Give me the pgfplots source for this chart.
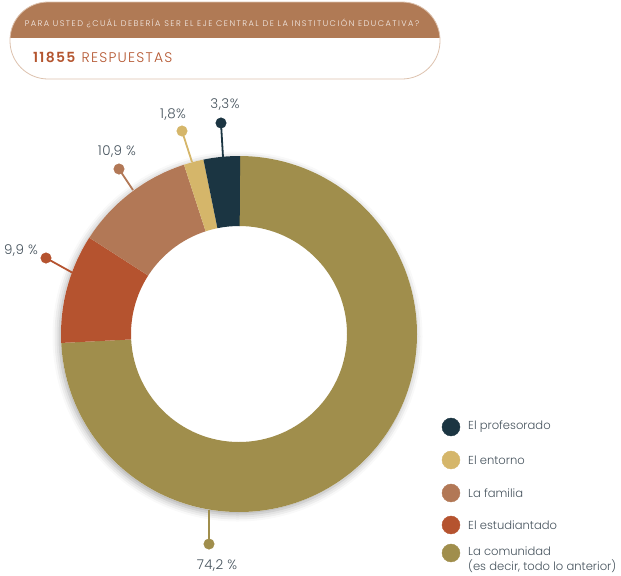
\documentclass[border=0pt]{standalone}
\usepackage{pgfplots}
\pgfplotsset{compat=1.18}
\usepackage{fontspec}
\setmainfont{Poppins}
\newfontfamily\lightfont{Poppins}[UprightFont=* Light, BoldFont=* SemiBold]
\usetikzlibrary{calc,shadows.blur}
\definecolor{profesorado}{HTML}{1B3542}
\definecolor{entorno}{HTML}{D5B66A}
\definecolor{familia}{HTML}{B27856}
\definecolor{estudiantado}{HTML}{B5532F}
\definecolor{comunidad}{HTML}{A08E4C}
\definecolor{header}{HTML}{B07A55}
\definecolor{headborder}{HTML}{DDC2AE}
\definecolor{numred}{HTML}{B4552F}
\definecolor{labgray}{HTML}{45525C}
\begin{document}
\begin{tikzpicture}
\begin{axis}[hide axis, scale only axis, width=621bp, height=575bp,
  xmin=0, xmax=621, ymin=0, ymax=575, y dir=reverse, clip=false]
\path (axis cs:0,0) rectangle (axis cs:621,575);
% header
\begin{scope}
\clip[rounded corners=38bp] (axis cs:10,2) rectangle (axis cs:440,79);
\fill[white] (axis cs:10,2) rectangle (axis cs:440,79);
\fill[header] (axis cs:10,2) rectangle (axis cs:440,38);
\end{scope}
\draw[headborder, line width=0.8bp, rounded corners=38bp] (axis cs:10,2) rectangle (axis cs:440,79);
\node[text=white!88!header, font=\fontsize{8.2}{9}\lightfont\addfontfeatures{LetterSpace=18}] at (axis cs:222,23) {PARA USTED ¿CUÁL DEBERÍA SER EL EJE CENTRAL DE LA INSTITUCIÓN EDUCATIVA?};
\node[anchor=west, text=numred, font=\fontsize{14}{16}\lightfont\addfontfeatures{LetterSpace=9}, inner sep=0pt] at (axis cs:33,57) {\textbf{11855} RESPUESTAS};
% shadow
\fill[white, blur shadow={shadow xshift=-1.5bp, shadow yshift=-2.5bp, shadow blur radius=7bp, shadow opacity=35}] (axis cs:239,334) circle[radius=178bp];
% donut
\gdef\cum{90}
\foreach \v/\c in {74.2/comunidad, 9.9/estudiantado, 10.9/familia, 1.8/entorno, 3.3/profesorado}{
  \pgfmathsetmacro\s{\cum}
  \pgfmathsetmacro\e{\cum-3.6*\v}
  \xdef\cum{\e}
  \edef\temp{\noexpand\fill[\c] ($(axis cs:239,334)+(\s:178bp)$) arc[start angle=\s, end angle=\e, radius=178bp] -- ($(axis cs:239,334)+(\e:108bp)$) arc[start angle=\e, end angle=\s, radius=108bp] -- cycle;}
  \temp
}
% leader lines
\addplot[profesorado, line width=1.8bp] coordinates {(221,123) (223,157)};
\addplot[entorno, line width=1.8bp] coordinates {(182,131) (192,162)};
\addplot[familia, line width=1.8bp] coordinates {(119,169) (133,190)};
\addplot[estudiantado, line width=1.8bp] coordinates {(46,258) (73,273)};
\addplot[comunidad, line width=1.8bp] coordinates {(209,544) (209,510)};
\addplot[only marks, mark=*, mark size=5.3, profesorado] coordinates {(221,123)};
\addplot[only marks, mark=*, mark size=5.3, entorno] coordinates {(182,131)};
\addplot[only marks, mark=*, mark size=5.3, familia] coordinates {(119,169)};
\addplot[only marks, mark=*, mark size=5.3, estudiantado] coordinates {(46,258)};
\addplot[only marks, mark=*, mark size=5.3, comunidad] coordinates {(209,544)};
% labels
\begin{scope}[every node/.style={text=labgray, font=\fontsize{13.5}{15}\lightfont\addfontfeatures{LetterSpace=3}}]
\node at (axis cs:225,105) {3,3\%};
\node at (axis cs:173,115) {1,8\%};
\node at (axis cs:117,152) {10,9 \%};
\node at (axis cs:21,251) {9,9 \%};
\node at (axis cs:217,566) {74,2 \%};
\end{scope}
% legend
\addplot[only marks, mark=*, mark size=9, profesorado] coordinates {(451,427)};
\addplot[only marks, mark=*, mark size=9, entorno] coordinates {(451,460)};
\addplot[only marks, mark=*, mark size=9, familia] coordinates {(451,493)};
\addplot[only marks, mark=*, mark size=9, estudiantado] coordinates {(451,525)};
\addplot[only marks, mark=*, mark size=9, comunidad] coordinates {(451,553)};
\begin{scope}[every node/.style={anchor=west, inner sep=0pt, text=labgray, font=\fontsize{11.6}{13}\lightfont}]
\node at (axis cs:468,427) {El profesorado};
\node at (axis cs:468,460) {El entorno};
\node at (axis cs:468,493) {La familia};
\node at (axis cs:468,525) {El estudiantado};
\node at (axis cs:468,551) {La comunidad};
\node at (axis cs:468,566) {(es decir, todo lo anterior)};
\end{scope}
\end{axis}
\end{tikzpicture}
\end{document}
